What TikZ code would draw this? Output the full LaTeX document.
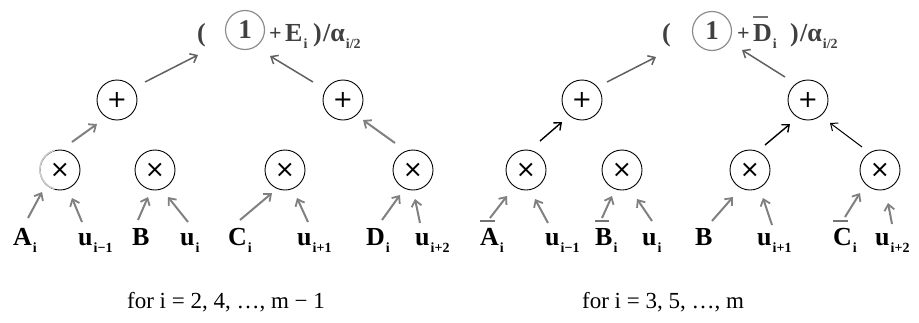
\documentclass[tikz,border=0pt]{standalone}
\usepackage{fontspec}
\setmainfont{Liberation Serif}
\newfontfamily\symf{DejaVu Sans}
\usetikzlibrary{arrows.meta,calc}
\newcommand\sbx[1]{\kern1pt\raisebox{-7pt}{\fontsize{14}{14}\selectfont #1}}
\newcommand\ovl[1]{\leavevmode\setbox0=\hbox{#1}\rlap{\raisebox{\dimexpr\ht0+6pt\relax}{\color{black!55}\rule{0.8\wd0}{1.6pt}}}\box0}
\tikzset{
  opn/.style={circle, draw, line width=0.9pt, minimum size=40pt, inner sep=0pt, font=\symf\fontsize{24}{24}\selectfont},
  onec/.style={circle, draw=black!45, line width=1.2pt, minimum size=39pt, inner sep=0pt, text=black!75, font=\fontsize{27}{27}\selectfont\bfseries},
  lbl/.style={anchor=base west, inner sep=0pt, font=\fontsize{26}{28}\selectfont\bfseries},
  topt/.style={anchor=base west, inner sep=0pt, text=black!75, font=\fontsize{26}{28}\selectfont\bfseries},
  topp/.style={anchor=base west, inner sep=0pt, text=black!75, font=\fontsize{22}{28}\selectfont\bfseries},
  capt/.style={anchor=base, inner sep=0pt, font=\fontsize{23}{25}\selectfont},
  garr/.style={draw=black!50, line width=2pt, -{Straight Barb[length=6pt,width=10pt,line width=1.8pt]}},
  tarr/.style={draw=black!62, line width=1.5pt, -{Straight Barb[length=6pt,width=10pt]}},
  barr/.style={draw=black, line width=1.4pt, -{Straight Barb[length=6pt,width=10pt]}},
}
\begin{document}
\begin{tikzpicture}[x=1pt,y=-1pt]
\useasboundingbox (0,0) rectangle (919,322);

% ---------- left tree ----------
\node[topt] (lp1) at (197,41) {(};
\node[onec] (one1) at (245,30) {1};
\node[topp] (pl1) at (269,40) {+};
\node[topt] (E1) at (285,41) {E\sbx{i}};
\node[topt] (rp1) at (313,41) {)};
\node[topt] (al1) at (323,41) {/α\sbx{i/2}};

\node[opn] (p1) at (117,100) {+};
\node[opn] (p2) at (343,100) {+};

\node[opn] (t1) at (60,170) {×};
\node[opn] (t2) at (155,170) {×};
\node[opn] (t3) at (285,170) {×};
\node[opn] (t4) at (413,170) {×};
\draw[white!60!gray, line width=1.5pt] (t1.105) arc[start angle=105, end angle=255, radius=20pt];

\node[lbl] (la1) at (13,245) {A\sbx{i}};
\node[lbl] (lu1) at (78,245) {u\sbx{i−1}};
\node[lbl] (lb1) at (132,245) {B};
\node[lbl] (lu2) at (180,245) {u\sbx{i}};
\node[lbl] (lc1) at (228,245) {C\sbx{i}};
\node[lbl] (lu3) at (297,245) {u\sbx{i+1}};
\node[lbl] (ld1) at (366,245) {D\sbx{i}};
\node[lbl] (lu4) at (415,245) {u\sbx{i+2}};

\draw[tarr] ($(p1)+(28,-18)$) -- ($(lp1.base west)+(1,14)$);
\draw[tarr] ($(p2)+(-30,-18)$) -- ($(one1)+(25,26)$);
\draw[garr] ($(t1)+(12,-28)$) -- ($(p1)+(-20,24)$);
\draw[garr] ($(t4)+(-18,-27)$) -- ($(p2)+(20,20)$);

\draw[garr] ($(la1.base west)+(15,-27)$) -- ($(t1)+(-18,22)$);
\draw[garr] ($(lu1.base west)+(4,-23)$) -- ($(t1)+(12,28)$);
\draw[garr] ($(lb1.base west)+(6,-25)$) -- ($(t2)+(-7,27)$);
\draw[garr] ($(lu2.base west)+(8,-23)$) -- ($(t2)+(13,27)$);
\draw[garr] ($(lc1.base west)+(12,-25)$) -- ($(t3)+(-13,23)$);
\draw[garr] ($(lu3.base west)+(11,-23)$) -- ($(t3)+(12,28)$);
\draw[garr] ($(ld1.base west)+(16,-25)$) -- ($(t4)+(-13,25)$);
\draw[garr] ($(lu4.base west)+(5,-22)$) -- ($(t4)+(2,29)$);

\node[capt] (f1) at (226,308) {for i = 2, 4, …, m − 1};

% ---------- right tree ----------
\node[topt] (lp2) at (662,41) {(};
\node[onec] (one2) at (712,31) {1};
\node[topp] (pl2) at (737,40) {+};
\node[topt] (D2) at (753,41) {\ovl{D}\sbx{i}};
\node[topt] (rp2) at (790,41) {)};
\node[topt] (al2) at (800,41) {/α\sbx{i/2}};

\node[opn] (p3) at (582,100) {+};
\node[opn] (p4) at (808,100) {+};

\node[opn] (t5) at (526,170) {×};
\node[opn] (t6) at (622,170) {×};
\node[opn] (t7) at (750,170) {×};
\node[opn] (t8) at (880,170) {×};

\node[lbl] (ra1) at (480,245) {\ovl{A}\sbx{i}};
\node[lbl] (ru1) at (545,245) {u\sbx{i−1}};
\node[lbl] (rb1) at (595,245) {\ovl{B}\sbx{i}};
\node[lbl] (ru2) at (642,245) {u\sbx{i}};
\node[lbl] (rb2) at (695,245) {B};
\node[lbl] (ru3) at (757,245) {u\sbx{i+1}};
\node[lbl] (rc1) at (833,245) {\ovl{C}\sbx{i}};
\node[lbl] (ru4) at (875,245) {u\sbx{i+2}};

\draw[tarr] ($(p3)+(25,-18)$) -- ($(lp2.base west)+(-6,16)$);
\draw[tarr] ($(p4)+(-23,-23)$) -- ($(one2)+(30,19)$);
\draw[barr] ($(t5)+(14,-29)$) -- ($(p3)+(-20,22)$);
\draw[barr] ($(t7)+(15,-25)$) -- ($(p4)+(-18,24)$);
\draw[barr, line width=1pt] ($(t8)+(-18,-23)$) -- ($(p4)+(22,23)$);

\draw[garr] ($(ra1.base west)+(10,-27)$) -- ($(t5)+(-19,26)$);
\draw[garr] ($(ru1.base west)+(3,-22)$) -- ($(t5)+(9,29)$);
\draw[garr] ($(rb1.base west)+(7,-27)$) -- ($(t6)+(-10,26)$);
\draw[garr] ($(ru2.base west)+(10,-24)$) -- ($(t6)+(15,29)$);
\draw[garr] ($(rb2.base west)+(17,-24)$) -- ($(t7)+(-17,27)$);
\draw[garr] ($(ru3.base west)+(15,-20)$) -- ($(t7)+(13,28)$);
\draw[garr] ($(rc1.base west)+(12,-28)$) -- ($(t8)+(-20,23)$);
\draw[garr] ($(ru4.base west)+(17,-21)$) -- ($(t8)+(8,33)$);

\node[capt] (f2) at (663,308) {for i = 3, 5, …, m};
\end{tikzpicture}
\end{document}
